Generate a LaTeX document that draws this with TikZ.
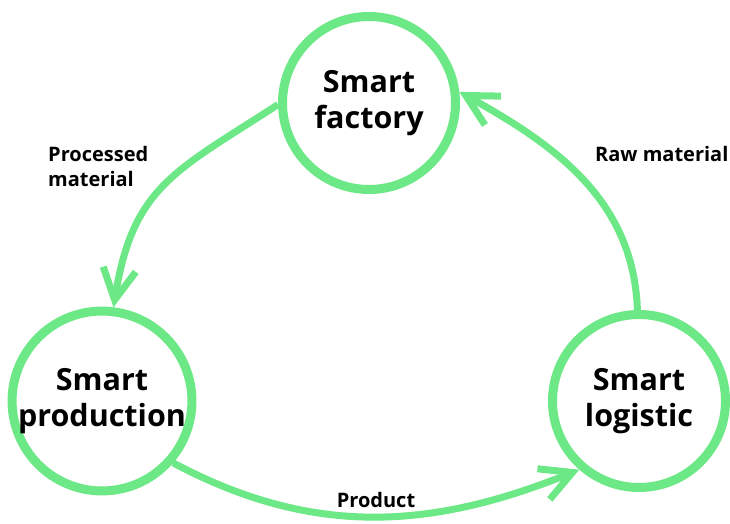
\documentclass[tikz,border=0pt]{standalone}
\usepackage{fontspec}
\setmainfont{Open Sans}
\usetikzlibrary{arrows.meta}
\definecolor{cyclegreen}{HTML}{6CE886}
\begin{document}
\begin{tikzpicture}[x=1pt, y=1pt,
	hub/.style={shape=circle, draw=cyclegreen, line width=9pt, fill=white, inner sep=0pt, minimum size=173pt, align=center, font=\fontsize{30.5}{36}\selectfont\bfseries},
	flow/.style={draw=cyclegreen, line width=7pt, -{Straight Barb[length=31pt, width=33pt]}},
	tag/.style={inner sep=0pt, align=left, font=\fontsize{20}{25}\selectfont\bfseries}]
	\useasboundingbox (0,0) rectangle (730,524);
	%Circles:
	\path
		(369,421) node[hub] (factory) {Smart\\factory}
		(102,123) node[hub] (production) {Smart\\production}
		(639,123) node[hub] (logistic) {Smart\\logistic};
	%Arrows:
	\draw[flow] (factory.181) to[out=213, in=81, looseness=1.2] (production.83);
	\draw[flow] (production.-41) to[out=-28, in=202] (logistic.229);
	\draw[flow] (logistic.91) to[out=92, in=331] (factory.7);
	%Labels:
	\path
		(48,337) node[tag, anchor=base west] (processed) {Processed\\material}
		(595,362) node[tag, anchor=base west] (raw) {Raw material}
		(376,16) node[tag, anchor=base] (product) {Product};
\end{tikzpicture}
\end{document}
